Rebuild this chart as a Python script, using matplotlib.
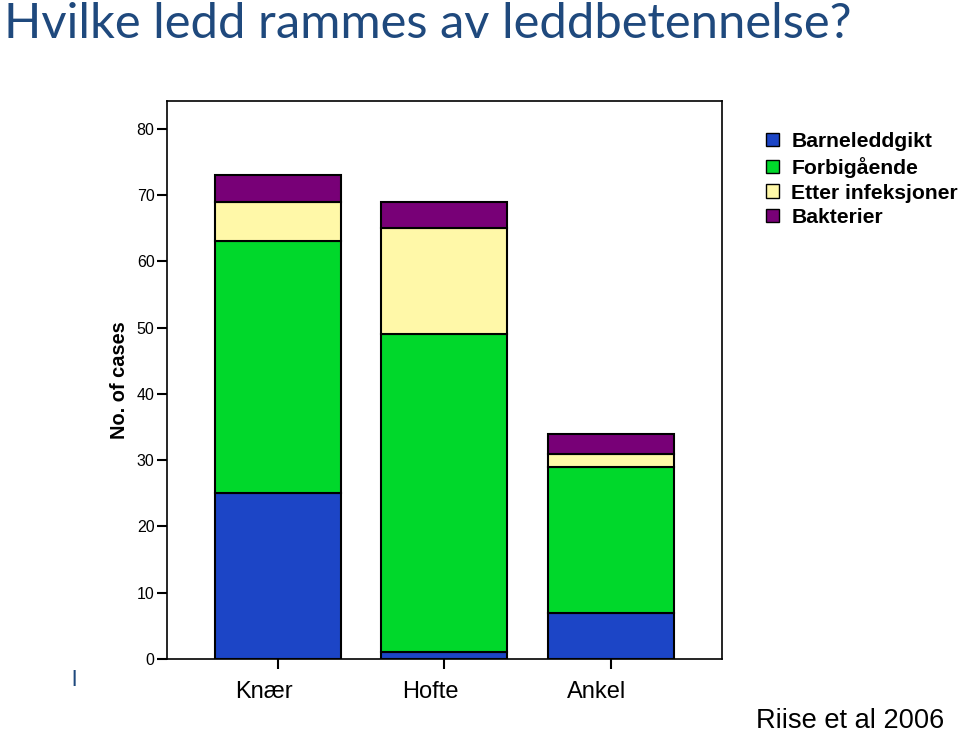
import matplotlib
matplotlib.use("Agg")
import matplotlib.pyplot as plt
import matplotlib.transforms as mtransforms
from matplotlib.patches import Patch

# data
joints = ["Knær", "Hofte", "Ankel"]
barneleddgikt = [25, 1, 7]
forbigaaende = [38, 48, 22]
etter_infeksjoner = [6, 16, 2]
bakterier = [4, 4, 3]

labels = ["Barneleddgikt", "Forbigående", "Etter infeksjoner", "Bakterier"]
colors = ["#1C45C6", "#00D82B", "#FFF8A8", "#780077"]

fig = plt.figure(figsize=(9.6, 7.34), dpi=100)
ax = fig.add_axes([0.174, 0.1022, 0.578, 0.7602])

x = list(range(len(joints)))
bottom = [0, 0, 0]
for vals, col in zip([barneleddgikt, forbigaaende, etter_infeksjoner, bakterier], colors):
    ax.bar(x, vals, width=0.757, bottom=bottom, color=col, edgecolor="black", linewidth=1.5)
    bottom = [b + v for b, v in zip(bottom, vals)]

ax.set_xlim(-0.667, 2.667)
ax.set_ylim(0, 84.2)
ax.set_yticks(range(0, 81, 10))
ax.set_xticks(x)
ax.set_xticklabels([])
# category labels sit a little left of the ticks in the original
shift = mtransforms.ScaledTranslation(-14 / 100, -33 / 100, fig.dpi_scale_trans)
for i, name in zip(x, joints):
    ax.text(i, 0, name, transform=ax.get_xaxis_transform() + shift, fontsize=17,
            family="Liberation Sans", ha="center", va="center")
for t in ax.get_yticklabels():
    t.set_fontsize(11.5)
    t.set_family("Liberation Sans")
ax.tick_params(axis="y", length=7, width=1.5, pad=2, direction="out")
ax.tick_params(axis="x", length=7, width=1.5, direction="out")
for s in ax.spines.values():
    s.set_linewidth(1.2)
ax.set_ylabel("No. of cases", fontsize=14.4, fontweight="bold", family="Liberation Sans")
ax.yaxis.set_label_coords(-0.0685, 0.5)

handles = [Patch(facecolor=c, edgecolor="black", linewidth=1) for c in colors]
leg = fig.legend(handles, labels, loc="upper left", bbox_to_anchor=(0.798, 0.820),
                 frameon=False, prop={"family": "Liberation Sans", "weight": "bold", "size": 15.2},
                 handlelength=0.6, handleheight=0.6, handletextpad=0.6, labelspacing=0.27,
                 borderaxespad=0, borderpad=0)

fig.text(0.004, 0.948, "Hvilke ledd rammes av leddbetennelse?", fontsize=35.2, color="#1F497D",
         family="Lato", ha="left", va="baseline")
fig.text(0.984, 0.0, "Riise et al 2006", fontsize=19.6, family="Liberation Sans", ha="right", va="bottom")
fig.text(0.074, 0.074, "l", fontsize=16, color="#1F497D", family="Lato", ha="left", va="center")

fig.savefig("out.png", dpi=100)
